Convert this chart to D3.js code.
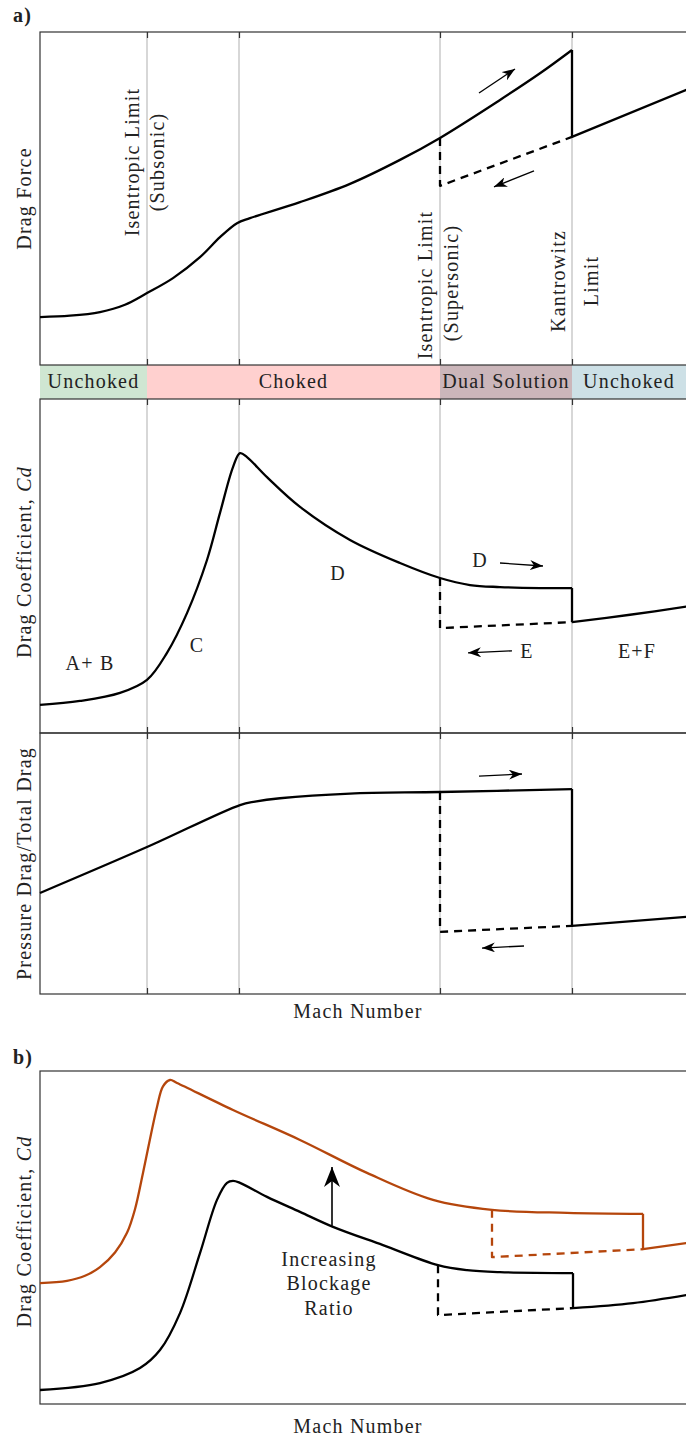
<!DOCTYPE html>
<html>
<head>
<meta charset="utf-8">
<script src="https://cdn.jsdelivr.net/npm/d3@7"></script>
<style>
body { margin: 0; background: #fff; }
text { font-family: "Liberation Serif", serif; font-size: 20px; fill: #222; letter-spacing: 1.2px; }
</style>
</head>
<body>
<div id="chart"></div>
<script>
// x is in loose "Mach" units, y is normalised 0..1 inside each panel
var limits = [1.07, 1.99, 4.0, 5.32];
var regimes = ["Unchoked", "Choked", "Dual Solution", "Unchoked"];
var regimeEdges = [0, 1.07, 4.0, 5.32, 6.5];
var regimeColors = ["#cfe6d2", "#ffd0cf", "#cbb6ba", "#cde0e6"];

// drag force
var forceX = [0, 0.3, 0.6, 0.85, 1.07, 1.33, 1.6, 1.8, 1.97, 2.1, 2.6, 3.1, 3.6, 4.0, 4.6, 5.0, 5.32];
var forceY = [0.144, 0.148, 0.159, 0.181, 0.216, 0.261, 0.324, 0.384, 0.426, 0.441, 0.489, 0.544, 0.616, 0.682, 0.796, 0.876, 0.946];
var forceJumpX = [5.32, 5.32, 6.5];
var forceJumpY = [0.946, 0.685, 0.831];
var forceDashX = [4.0, 4.0, 5.32];
var forceDashY = [0.682, 0.538, 0.685];

// drag coefficient
var cdX = [0, 0.4, 0.8, 1.07, 1.27, 1.47, 1.67, 1.8, 1.93, 2.0, 2.07, 2.27, 2.6, 3.1, 3.6, 4.0, 4.3, 4.6, 5.0, 5.32];
var cdY = [0.084, 0.096, 0.120, 0.159, 0.240, 0.359, 0.518, 0.659, 0.796, 0.838, 0.826, 0.766, 0.677, 0.578, 0.509, 0.464, 0.443, 0.437, 0.434, 0.434];
var cdAfterX = [5.32, 5.9, 6.5];
var cdAfterY = [0.332, 0.354, 0.38];
var cdDashX = [4.0, 4.0, 5.32];
var cdDashY = [0.464, 0.314, 0.332];

// pressure drag / total drag
var pressX = [0, 1.07, 2.0, 2.15, 2.4, 3.1, 4.0, 5.32];
var pressY = [0.387, 0.563, 0.724, 0.737, 0.750, 0.768, 0.774, 0.785];
var pressJumpX = [5.32, 5.32, 6.5];
var pressJumpY = [0.785, 0.261, 0.297];
var pressDashX = [4.0, 4.0, 5.32];
var pressDashY = [0.774, 0.238, 0.261];

// panel b, low blockage (black) and high blockage (orange)
var blackX = [0, 0.6, 1.0, 1.2, 1.4, 1.6, 1.77, 1.87, 1.93, 2.0, 2.27, 2.6, 2.93, 3.43, 3.98, 4.27, 4.6, 5.33];
var blackY = [0.042, 0.063, 0.108, 0.162, 0.273, 0.453, 0.613, 0.664, 0.670, 0.664, 0.622, 0.577, 0.532, 0.477, 0.417, 0.402, 0.396, 0.393];
var blackAfterX = [5.33, 5.93, 6.5];
var blackAfterY = [0.288, 0.303, 0.329];
var blackDashX = [3.98, 3.98, 5.33];
var blackDashY = [0.417, 0.267, 0.288];

var orangeX = [0, 0.27, 0.45, 0.6, 0.75, 0.87, 0.95, 1.03, 1.17, 1.23, 1.30, 1.37, 1.93, 2.6, 3.27, 3.93, 4.52, 5.27, 6.03];
var orangeY = [0.363, 0.370, 0.385, 0.411, 0.455, 0.514, 0.585, 0.694, 0.892, 0.954, 0.973, 0.964, 0.883, 0.793, 0.694, 0.613, 0.583, 0.574, 0.571];
var orangeJumpX = [6.03, 6.03, 6.5];
var orangeJumpY = [0.571, 0.465, 0.485];
var orangeDashX = [4.52, 4.52, 6.03];
var orangeDashY = [0.583, 0.441, 0.465];

// direction arrows [x1, y1, x2, y2]
var forceArrows = [[4.39, 0.817, 4.75, 0.889], [4.94, 0.583, 4.54, 0.535]];
var cdArrows = [[4.6, 0.509, 5.03, 0.500], [4.72, 0.246, 4.28, 0.240]];
var pressArrows = [[4.39, 0.835, 4.82, 0.843], [4.84, 0.184, 4.42, 0.176]];
var blockArrow = [2.92, 0.535, 2.92, 0.712];

// region labels [x, y, text]
var cdLabels = [[0.5, 0.19, "A+ B"], [1.57, 0.243, "C"], [2.98, 0.458, "D"], [4.4, 0.497, "D"], [4.87, 0.225, "E"], [5.97, 0.225, "E+F"]];

var width = 686, height = 1439;
var orange = "#b5460c";

var svg = d3.select("#chart").append("svg")
    .attr("width", width)
    .attr("height", height);

var defs = svg.append("defs");
function marker(id, w, h) {
  defs.append("marker")
      .attr("id", id)
      .attr("viewBox", (-w) + " " + (-h / 2) + " " + w + " " + h)
      .attr("markerUnits", "userSpaceOnUse")
      .attr("markerWidth", w)
      .attr("markerHeight", h)
      .attr("refX", 0)
      .attr("refY", 0)
      .attr("orient", "auto")
    .append("path")
      .attr("d", "M0,0 L" + (-w) + "," + (-h / 2) + " L" + (-w * 0.7) + ",0 L" + (-w) + "," + (h / 2) + " Z")
      .attr("fill", "#000");
}
marker("head", 13, 10);
marker("bighead", 20, 16);

var x = d3.scaleLinear().domain([0, 6.5]).range([40, 690]);

// panels
var pForce = { top: 32, bottom: 365 };
var pCd = { top: 399, bottom: 733 };
var pPress = { top: 733, bottom: 994 };
var pB = { top: 1071, bottom: 1404 };
[pForce, pCd, pPress, pB].forEach(function(p) {
  p.y = d3.scaleLinear().domain([0, 1]).range([p.bottom, p.top]);
});

function curve(p, xs, ys, opts) {
  var pts = xs.map(function(d, i) { return [d, ys[i]]; });
  var line = d3.line()
      .x(function(d) { return x(d[0]); })
      .y(function(d) { return p.y(d[1]); })
      .curve(opts.smooth ? d3.curveCatmullRom.alpha(0.5) : d3.curveLinear);
  svg.append("path")
      .datum(pts)
      .attr("d", line)
      .attr("fill", "none")
      .attr("stroke", opts.color || "#000")
      .attr("stroke-width", 2.3)
      .attr("stroke-linejoin", "round")
      .attr("stroke-dasharray", opts.dash ? "8,6" : null);
}

function arrows(p, list, head, w) {
  svg.selectAll(null)
    .data(list)
    .enter().append("line")
      .attr("x1", function(d) { return x(d[0]); })
      .attr("y1", function(d) { return p.y(d[1]); })
      .attr("x2", function(d) { return x(d[2]); })
      .attr("y2", function(d) { return p.y(d[3]); })
      .attr("stroke", "#000")
      .attr("stroke-width", w)
      .attr("marker-end", "url(#" + head + ")");
}

function vtext(tx, ty, str, size) {
  return svg.append("text")
      .attr("transform", "translate(" + tx + "," + ty + ") rotate(-90)")
      .attr("text-anchor", "middle")
      .style("font-size", size ? size + "px" : null)
      .text(str);
}

// grey limit lines and ticks on the three panels of a)
[pForce, pCd, pPress].forEach(function(p) {
  svg.selectAll(null)
    .data(limits)
    .enter().append("line")
      .attr("x1", function(d) { return x(d); })
      .attr("x2", function(d) { return x(d); })
      .attr("y1", p.top)
      .attr("y2", p.bottom)
      .attr("stroke", "#bdbdbd")
      .attr("stroke-width", 1.2);

  var topAxis = svg.append("g")
      .attr("transform", "translate(0," + p.top + ")")
      .call(d3.axisTop(x).tickValues(limits).tickSize(-6).tickFormat(""));
  var botAxis = svg.append("g")
      .attr("transform", "translate(0," + p.bottom + ")")
      .call(d3.axisBottom(x).tickValues(limits).tickSize(-6).tickFormat(""));
  [topAxis, botAxis].forEach(function(a) {
    a.select(".domain").remove();
    a.selectAll("line").attr("stroke", "#333").attr("stroke-width", 1.2);
  });
});

// regime band
var band = { top: pForce.bottom, bottom: pCd.top };
svg.selectAll(null)
  .data(regimes)
  .enter().append("rect")
    .attr("x", function(d, i) { return x(regimeEdges[i]); })
    .attr("y", band.top)
    .attr("width", function(d, i) { return x(regimeEdges[i + 1]) - x(regimeEdges[i]); })
    .attr("height", band.bottom - band.top)
    .attr("fill", function(d, i) { return regimeColors[i]; });
svg.selectAll(null)
  .data(regimes)
  .enter().append("text")
    .attr("x", function(d, i) { return (x(regimeEdges[i]) + x(Math.min(regimeEdges[i + 1], 6.46))) / 2; })
    .attr("y", band.bottom - 11)
    .attr("text-anchor", "middle")
    .text(function(d) { return d; });

// frames
[pForce, pCd, pPress, pB].forEach(function(p) {
  svg.append("rect")
      .attr("x", 40)
      .attr("y", p.top)
      .attr("width", 660)
      .attr("height", p.bottom - p.top)
      .attr("fill", "none")
      .attr("stroke", "#333")
      .attr("stroke-width", 1.2);
});

// drag force panel
curve(pForce, forceX, forceY, { smooth: true });
curve(pForce, forceJumpX, forceJumpY, {});
curve(pForce, forceDashX, forceDashY, { dash: true });
arrows(pForce, forceArrows, "head", 1.3);

vtext(x(limits[0]) - 8, 162, "Isentropic Limit");
vtext(x(limits[0]) + 17, 162, "(Subsonic)");
vtext(x(limits[2]) - 8, 285, "Isentropic Limit");
vtext(x(limits[2]) + 18, 283, "(Supersonic)");
vtext(x(limits[3]) - 7, 281, "Kantrowitz");
vtext(x(limits[3]) + 26, 281, "Limit");

// drag coefficient panel
curve(pCd, cdX, cdY, { smooth: true });
curve(pCd, [cdX[cdX.length - 1], cdAfterX[0]], [cdY[cdY.length - 1], cdAfterY[0]], {});
curve(pCd, cdAfterX, cdAfterY, { smooth: true });
curve(pCd, cdDashX, cdDashY, { dash: true });
arrows(pCd, cdArrows, "head", 1.3);
svg.selectAll(null)
  .data(cdLabels)
  .enter().append("text")
    .attr("x", function(d) { return x(d[0]); })
    .attr("y", function(d) { return pCd.y(d[1]); })
    .attr("text-anchor", "middle")
    .text(function(d) { return d[2]; });

// pressure drag panel
curve(pPress, pressX, pressY, { smooth: true });
curve(pPress, pressJumpX, pressJumpY, {});
curve(pPress, pressDashX, pressDashY, { dash: true });
arrows(pPress, pressArrows, "head", 1.3);

// axis titles a)
vtext(31, (pForce.top + pForce.bottom) / 2, "Drag Force");
var cdTitle = vtext(31, (pCd.top + pCd.bottom) / 2 - 4, "Drag Coefficient, ");
cdTitle.append("tspan").style("font-style", "italic").text("Cd");
vtext(31, (pPress.top + pPress.bottom) / 2, "Pressure Drag/Total Drag");
svg.append("text")
    .attr("x", 358)
    .attr("y", pPress.bottom + 24)
    .attr("text-anchor", "middle")
    .text("Mach Number");

// panel b
curve(pB, orangeX, orangeY, { smooth: true, color: orange });
curve(pB, orangeJumpX, orangeJumpY, { color: orange });
curve(pB, orangeDashX, orangeDashY, { dash: true, color: orange });
curve(pB, blackX, blackY, { smooth: true });
curve(pB, [blackX[blackX.length - 1], blackAfterX[0]], [blackY[blackY.length - 1], blackAfterY[0]], {});
curve(pB, blackAfterX, blackAfterY, { smooth: true });
curve(pB, blackDashX, blackDashY, { dash: true });
arrows(pB, [blockArrow], "bighead", 1.6);

var blockText = svg.append("text")
    .attr("x", x(2.89))
    .attr("y", pB.y(0.415))
    .attr("text-anchor", "middle");
["Increasing", "Blockage", "Ratio"].forEach(function(s, i) {
  blockText.append("tspan")
      .attr("x", x(2.89))
      .attr("dy", i === 0 ? 0 : 24.5)
      .text(s);
});

var cdTitleB = vtext(31, (pB.top + pB.bottom) / 2 - 6, "Drag Coefficient, ");
cdTitleB.append("tspan").style("font-style", "italic").text("Cd");
svg.append("text")
    .attr("x", 358)
    .attr("y", pB.bottom + 29)
    .attr("text-anchor", "middle")
    .text("Mach Number");

// panel letters
svg.append("text").attr("x", 13).attr("y", 22).style("font-weight", "bold").text("a)");
svg.append("text").attr("x", 13).attr("y", 1064).style("font-weight", "bold").text("b)");
</script>
</body>
</html>
